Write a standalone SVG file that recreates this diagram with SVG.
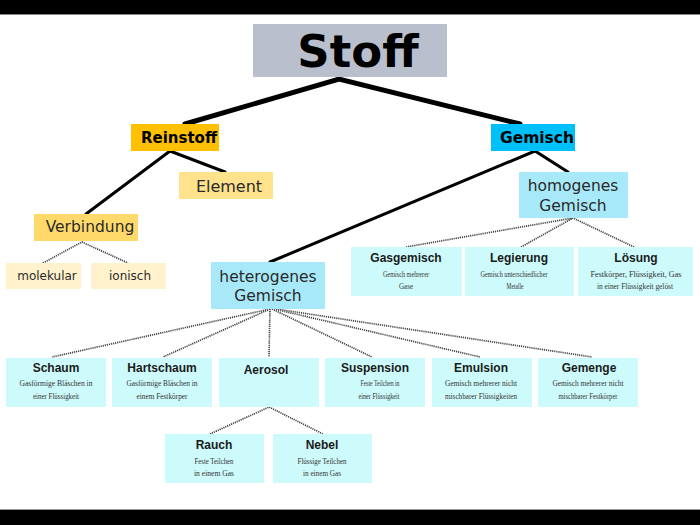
<svg xmlns="http://www.w3.org/2000/svg" width="700" height="525" viewBox="0 0 700 525">
<style>
.big{font-family:"DejaVu Sans",sans-serif;font-weight:bold;fill:#000;text-anchor:middle}
.mid{font-family:"DejaVu Sans",sans-serif;fill:#2a2a2a;text-anchor:middle}
.t{font-family:"Liberation Sans",Arial,sans-serif;font-weight:bold;font-size:12px;fill:#1a1a1a;text-anchor:middle}
.d{font-family:"Liberation Serif","Times New Roman",serif;font-size:9px;fill:#333;text-anchor:middle}
.leaf{fill:#cdfafa}
.cyan{fill:#a8e9f9}
.solid{stroke:#000;fill:none;stroke-linecap:round}
.dot{stroke:#444;stroke-width:1.7;stroke-dasharray:1.2 0.9;fill:none}
</style>
<rect x="0" y="0" width="700" height="525" fill="#fff"/>
<rect x="0" y="0" width="700" height="14" fill="#000"/>
<line x1="0" y1="14.5" x2="700" y2="14.5" stroke="#888" stroke-width="1"/>
<rect x="0" y="510" width="700" height="15" fill="#000"/>
<line x1="0" y1="509.5" x2="700" y2="509.5" stroke="#999" stroke-width="1"/>

<g id="connectors">
<path class="solid" stroke-width="5" d="M185,124 L339,79 L520,124"/>
<path class="solid" stroke-width="3" d="M86,214 L170,151 L225,172"/>
<path class="solid" stroke-width="3" d="M270,262 L535,151 L568,172"/>
<path class="dot" d="M43,263 L82,242 L128,263"/>
<path class="dot" d="M406,247 L573,218 M521,247 L573,218 M634,247 L573,218"/>
<path class="dot" d="M270,309 L52,357 M270,309 L163,357 M270,309 L269,357 M272,309 L372,357 M274,309 L480,357 M276,309 L592,357"/>
<path class="dot" d="M210,434 L269,407 L323,434"/>
</g>

<g id="stoff"><rect x="253" y="24" width="194" height="53" fill="#b9bfcd"/><text class="big" x="358" y="67" font-size="45">Stoff</text></g>
<g id="reinstoff"><rect x="131" y="124" width="88" height="27" fill="#ffc000"/><text class="big" x="179" y="143" font-size="15">Reinstoff</text></g>
<g id="gemisch"><rect x="491" y="124" width="84" height="27" fill="#00c0fb"/><text class="big" x="537" y="143" font-size="15.5">Gemisch</text></g>
<g id="element"><rect x="179" y="172" width="94" height="27" fill="#ffe28c"/><text class="mid" x="229" y="192" font-size="16">Element</text></g>
<g id="verbindung"><rect x="34" y="214" width="104" height="27" fill="#ffda6a"/><text class="mid" x="90" y="232" font-size="15.5">Verbindung</text></g>
<g id="molekular"><rect x="6" y="263" width="75" height="26" fill="#fff2cc"/><text class="mid" x="47" y="280" font-size="12">molekular</text></g>
<g id="ionisch"><rect x="91" y="263" width="75" height="26" fill="#fff2cc"/><text class="mid" x="130" y="280" font-size="12">ionisch</text></g>
<g id="homogenes"><rect class="cyan" x="519" y="172" width="109" height="46"/><text class="mid" x="573" y="191" font-size="15.5">homogenes</text><text class="mid" x="573" y="211" font-size="15.5">Gemisch</text></g>
<g id="heterogenes"><rect class="cyan" x="211" y="262" width="114" height="47"/><text class="mid" x="268" y="282" font-size="15.5">heterogenes</text><text class="mid" x="268" y="301" font-size="15.5">Gemisch</text></g>

<g id="gasgemisch"><rect class="leaf" x="351" y="247" width="111" height="49"/><text class="t" x="406" y="262">Gasgemisch</text><text class="d" x="406" y="277" textLength="46" lengthAdjust="spacingAndGlyphs">Gemisch mehrerer</text><text class="d" x="406" y="289" textLength="14" lengthAdjust="spacingAndGlyphs">Gase</text></g>
<g id="legierung"><rect class="leaf" x="465" y="247" width="109" height="49"/><text class="t" x="519" y="262">Legierung</text><text class="d" x="514" y="277" textLength="67" lengthAdjust="spacingAndGlyphs">Gemisch unterschiedlicher</text><text class="d" x="515" y="289" textLength="17" lengthAdjust="spacingAndGlyphs">Metalle</text></g>
<g id="loesung"><rect class="leaf" x="578" y="247" width="115" height="49"/><text class="t" x="636" y="262">Lösung</text><text class="d" x="636" y="277" textLength="91" lengthAdjust="spacingAndGlyphs">Festkörper, Flüssigkeit, Gas</text><text class="d" x="635" y="289" textLength="76" lengthAdjust="spacingAndGlyphs">in einer Flüssigkeit gelöst</text></g>

<g id="schaum"><rect class="leaf" x="6" y="358" width="100" height="49"/><text class="t" x="56" y="372">Schaum</text><text class="d" x="56" y="386" textLength="73" lengthAdjust="spacingAndGlyphs">Gasförmige Bläschen in</text><text class="d" x="56" y="399" textLength="46" lengthAdjust="spacingAndGlyphs">einer Flüssigkeit</text></g>
<g id="hartschaum"><rect class="leaf" x="112" y="358" width="100" height="49"/><text class="t" x="162" y="372">Hartschaum</text><text class="d" x="162" y="386" textLength="71" lengthAdjust="spacingAndGlyphs">Gasförmige Bläschen in</text><text class="d" x="162" y="399" textLength="51" lengthAdjust="spacingAndGlyphs">einem Festkörper</text></g>
<g id="aerosol"><rect class="leaf" x="219" y="358" width="100" height="49"/><text class="t" x="266" y="374">Aerosol</text></g>
<g id="suspension"><rect class="leaf" x="325" y="358" width="100" height="49"/><text class="t" x="375" y="372">Suspension</text><text class="d" x="380" y="386" textLength="39" lengthAdjust="spacingAndGlyphs">Feste Teilchen in</text><text class="d" x="379" y="399" textLength="41" lengthAdjust="spacingAndGlyphs">einer Flüssigkeit</text></g>
<g id="emulsion"><rect class="leaf" x="432" y="358" width="100" height="49"/><text class="t" x="481" y="372">Emulsion</text><text class="d" x="481" y="386" textLength="72" lengthAdjust="spacingAndGlyphs">Gemisch mehrerer nicht</text><text class="d" x="481" y="399" textLength="72" lengthAdjust="spacingAndGlyphs">mischbarer Flüssigkeiten</text></g>
<g id="gemenge"><rect class="leaf" x="538" y="358" width="100" height="49"/><text class="t" x="589" y="372">Gemenge</text><text class="d" x="588" y="386" textLength="71" lengthAdjust="spacingAndGlyphs">Gemisch mehrerer nicht</text><text class="d" x="588" y="399" textLength="59" lengthAdjust="spacingAndGlyphs">mischbarer Festkörper</text></g>

<g id="rauch"><rect class="leaf" x="165" y="434" width="99" height="49"/><text class="t" x="214" y="449">Rauch</text><text class="d" x="214" y="464" textLength="39" lengthAdjust="spacingAndGlyphs">Feste Teilchen</text><text class="d" x="214" y="476" textLength="40" lengthAdjust="spacingAndGlyphs">in einem Gas</text></g>
<g id="nebel"><rect class="leaf" x="273" y="434" width="99" height="49"/><text class="t" x="322" y="449">Nebel</text><text class="d" x="322" y="464" textLength="49" lengthAdjust="spacingAndGlyphs">Flüssige Teilchen</text><text class="d" x="322" y="476" textLength="38" lengthAdjust="spacingAndGlyphs">in einem Gas</text></g>
</svg>
